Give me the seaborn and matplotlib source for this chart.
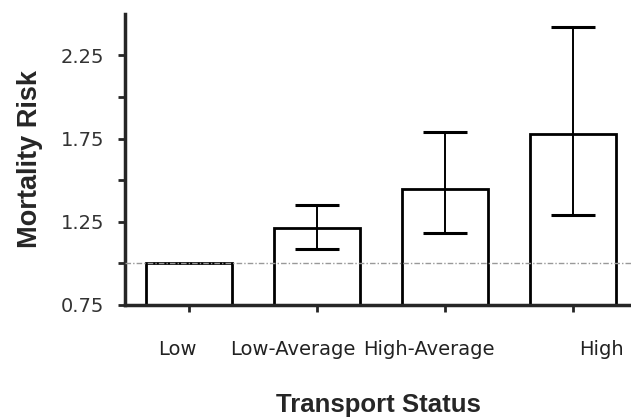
import matplotlib
matplotlib.use("Agg")
import matplotlib.pyplot as plt
import matplotlib.transforms as mtransforms
import seaborn as sns
import pandas as pd
from matplotlib.ticker import FixedLocator

# ============================================================
# DATA
# ============================================================
categories = ["Low", "Low-Average", "High-Average", "High"]
risk = [1.00, 1.21, 1.445, 1.78]
ci_low = [1.00, 1.085, 1.18, 1.29]
ci_high = [1.00, 1.35, 1.79, 2.42]
major_ticks = [0.75, 1.25, 1.75, 2.25]
minor_ticks = [1.0, 1.5, 2.0]
reference_level = 1.0

df = pd.DataFrame({"status": categories, "risk": risk})

# ============================================================
# PLOT
# ============================================================
sns.set_style("ticks")
plt.rcParams["font.family"] = ["DejaVu Sans"]

fig = plt.figure(figsize=(6.31, 4.2), dpi=100)
ax = fig.add_axes([0.198, 0.274, 0.802, 0.693])

sns.barplot(data=df, x="status", y="risk", order=categories,
            color="white", edgecolor="black", linewidth=2,
            width=0.67, errorbar=None, ax=ax)

# reference line at risk = 1
ax.axhline(reference_level, color="#999999", lw=1, ls=(0, (4, 1.5, 1, 1.5)),
           zorder=5)

# confidence intervals (skip the reference group)
for i, cat in enumerate(categories):
    if ci_high[i] == ci_low[i]:
        continue
    ax.errorbar(i, risk[i],
                yerr=[[risk[i] - ci_low[i]], [ci_high[i] - risk[i]]],
                fmt="none", ecolor="black", elinewidth=1.4,
                capsize=16, capthick=2.2, zorder=6)

ax.set_ylim(0.75, 2.5)
ax.set_xlim(-0.5, 3.45)
ax.yaxis.set_major_locator(FixedLocator(major_ticks))
ax.yaxis.set_minor_locator(FixedLocator(minor_ticks))
ax.set_yticklabels([f"{t:.2f}" for t in major_ticks], fontsize=14,
                   color="#333333")
ax.tick_params(axis="y", which="both", length=5, width=2, direction="out",
               pad=10)
ax.tick_params(axis="x", length=5, width=2, pad=20, labelsize=14,
               labelcolor="#222222")

# nudge category labels sideways so they don't collide
shifts = [-12, -24, -16, 28]  # pixels
for lab, dx in zip(ax.get_xticklabels(), shifts):
    off = mtransforms.ScaledTranslation(dx / 100, 0, fig.dpi_scale_trans)
    lab.set_transform(lab.get_transform() + off)

sns.despine(ax=ax)
ax.spines["left"].set_linewidth(2.5)
ax.spines["bottom"].set_linewidth(2.5)

ax.set_xlabel("Transport Status", fontsize=18.5, fontweight="bold",
              family=["Liberation Sans", "DejaVu Sans"], labelpad=25)
ax.set_ylabel("Mortality Risk", fontsize=19.5, fontweight="bold",
              family=["Liberation Sans", "DejaVu Sans"], labelpad=13)

fig.savefig("out.png", dpi=100)
plt.close(fig)
